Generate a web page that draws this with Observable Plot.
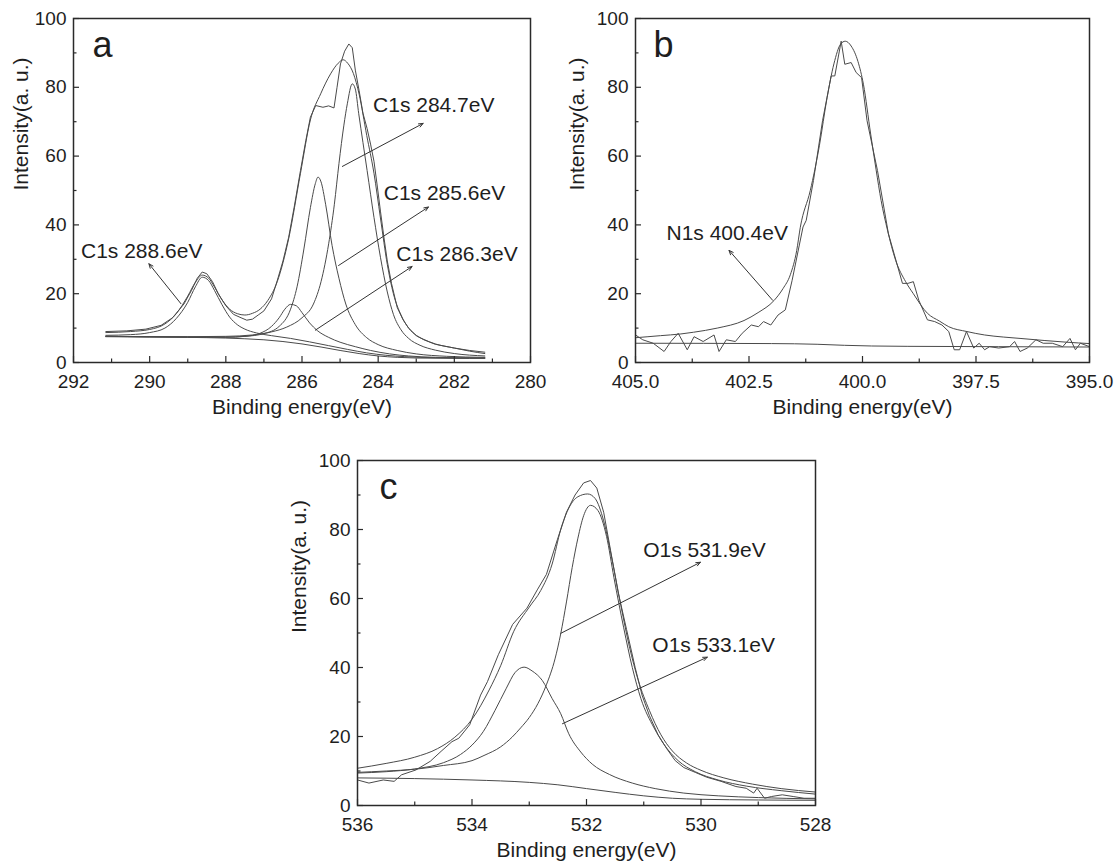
<!DOCTYPE html>
<html><head><meta charset="utf-8">
<script src="https://cdn.jsdelivr.net/npm/d3@7"></script>
<script src="https://cdn.jsdelivr.net/npm/@observablehq/plot@0.6"></script>
<style>
html,body{margin:0;padding:0;background:#fff;}
#wrap{position:relative;width:1115px;height:864px;overflow:hidden;font-family:"Liberation Sans",Arial,sans-serif;}
#wrap svg{position:absolute;}
</style></head><body><div id="wrap"></div>
<script>
// ---------- Panel a : C1s ----------
const aXTicks = [292, 290, 288, 286, 284, 282, 280];
const aXMinor = [291, 289, 287, 285, 283, 281];
const yTicks = [0, 20, 40, 60, 80, 100];
const yMinor = [10, 30, 50, 70, 90];
const aRaw = [[291.15,9.0],[290.6,9.2],[290.1,9.7],[289.7,10.8],[289.4,13.0],[289.1,17.0],[288.9,21.0],[288.75,24.5],[288.62,26.3],[288.5,25.8],[288.35,23.5],[288.2,20.0],[288.0,16.5],[287.8,14.0],[287.6,13.0],[287.45,12.3],[287.3,12.6],[287.15,13.8],[287.0,15.0],[286.8,18.5],[286.65,23.8],[286.5,29.5],[286.35,36.4],[286.2,45.5],[286.04,55.8],[285.9,64.5],[285.78,71.3],[285.64,74.7],[285.45,74.2],[285.3,74.6],[285.16,74.0],[285.08,80],[284.99,86.8],[284.88,90.5],[284.77,92.6],[284.68,91.5],[284.6,85],[284.5,79],[284.4,72.5],[284.29,68],[284.2,63.5],[284.11,58.5],[284.02,51],[283.94,44],[283.85,36.5],[283.76,29.5],[283.65,23],[283.5,16],[283.35,12.5],[283.2,10],[283.0,7.8],[282.8,6.6],[282.5,5.3],[282.0,4.2],[281.6,3.5],[281.2,3.0]];
const aFit = [[291.15,8.7],[290.5,9.0],[290.0,9.6],[289.6,11.2],[289.3,14.2],[289.0,19.3],[288.8,23.3],[288.62,25.4],[288.45,24.5],[288.3,22.0],[288.1,18.2],[287.9,15.5],[287.7,14.2],[287.5,13.8],[287.3,14.3],[287.1,15.5],[286.9,18.0],[286.65,23.5],[286.35,36],[286.04,55],[285.78,70.5],[285.51,78.1],[285.25,83.9],[285.05,87],[284.92,88],[284.8,87],[284.65,84],[284.5,78],[284.3,66],[284.11,55],[283.94,42],[283.76,28.5],[283.6,20],[283.4,13.8],[283.2,10],[283.0,7.9],[282.8,6.7],[282.5,5.4],[282.0,4.2],[281.6,3.3],[281.2,2.6]];
const aPeak2886 = [[291.15,7.9],[290.5,8.1],[290.0,8.7],[289.6,10.0],[289.3,12.8],[289.0,17.5],[288.8,22],[288.62,24.8],[288.45,23.8],[288.3,21.0],[288.1,16.8],[287.9,13.2],[287.7,11.0],[287.5,9.7],[287.2,8.6],[286.8,7.8],[286.3,7.0],[285.8,6.0],[285.3,4.9],[284.8,3.8],[284.3,2.8],[283.8,2.1],[283.3,1.7],[282.5,1.4],[281.2,1.3]];
const aPeak2863 = [[291.15,7.6],[289,7.4],[288.0,7.3],[287.5,7.6],[287.1,8.5],[286.8,10.5],[286.6,13.0],[286.45,15.5],[286.3,16.9],[286.15,16.5],[286.0,14.5],[285.8,11.5],[285.6,9.3],[285.3,7.3],[285.0,5.9],[284.6,4.6],[284.2,3.5],[283.7,2.5],[283.2,1.9],[282.5,1.5],[281.2,1.3]];
const aPeak2856 = [[291.15,7.6],[289,7.4],[288.0,7.4],[287.5,7.6],[287.0,8.4],[286.6,10.5],[286.3,15.5],[286.13,22],[285.95,33],[285.78,45],[285.65,52],[285.58,53.9],[285.5,52.5],[285.38,46],[285.21,34],[285.03,24.5],[284.85,17],[284.6,11],[284.3,7.2],[284.0,5.2],[283.5,3.5],[283.0,2.5],[282.2,1.8],[281.2,1.5]];
const aPeak2847 = [[291.15,7.6],[289,7.5],[288.0,7.6],[287.3,8.0],[286.8,8.9],[286.4,10.3],[286.0,13.0],[285.7,17.0],[285.5,23.5],[285.3,34.5],[285.15,46],[285.03,57.8],[284.9,69],[284.81,75.2],[284.68,81],[284.6,79.5],[284.51,72.3],[284.4,64],[284.29,55.8],[284.11,42.2],[283.94,30.6],[283.76,20.5],[283.6,14],[283.4,9.5],[283.2,7.0],[282.9,5.0],[282.5,3.6],[282.0,2.6],[281.2,1.9]];
const aBg = [[291.15,7.5],[290,7.4],[289,7.3],[288,7.1],[287.5,6.9],[287,6.6],[286.5,6.1],[286,5.4],[285.5,4.5],[285,3.5],[284.5,2.6],[284,1.9],[283.5,1.5],[283,1.3],[282,1.2],[281.2,1.2]];
const aLabelText = ["C1s 284.7eV", "C1s 285.6eV", "C1s 286.3eV", "C1s 288.6eV"];
const aLabelE = [282.54, 282.26, 281.93, 290.21];
const aLabelI = [74.8, 49.3, 31.5, 32.3];
const aArrowFrom = [[284.94,57.0],[285.04,28.2],[285.65,9.4],[289.18,17.1]];
const aArrowTo = [[282.82,69.5],[282.68,45.2],[283.11,27.9],[290.02,28.7]];

// ---------- Panel b : N1s ----------
const bXTicks = [405, 402.5, 400, 397.5, 395];
const bXMinor = [403.75, 401.25, 398.75, 396.25];
const bRaw = [[405.0,8],[404.84,6.6],[404.61,5.6],[404.37,3.2],[404.22,6.1],[404.06,8.5],[403.86,3.7],[403.71,7.5],[403.51,6.1],[403.27,8],[403.16,3.2],[403.0,6.6],[402.8,6.1],[402.65,8.5],[402.45,10.9],[402.29,10.4],[402.18,11.9],[402.02,10.9],[401.86,13.8],[401.7,15.3],[401.55,23.9],[401.31,39.4],[401.24,41.3],[401.08,52.9],[400.88,70.3],[400.69,83.3],[400.61,83.3],[400.47,93.4],[400.39,86.7],[400.25,87.2],[400.14,84.3],[400.02,82.8],[399.9,70.3],[399.67,55.8],[399.43,37.5],[399.12,23],[399.0,23],[398.88,23.5],[398.76,18.1],[398.57,12.4],[398.41,11.9],[398.25,10.9],[398.1,9],[397.98,3.7],[397.86,3.7],[397.71,9],[397.55,4.2],[397.43,5.6],[397.31,3.7],[397.2,4.6],[397.0,4.2],[396.76,4.6],[396.65,6.1],[396.53,3.2],[396.37,4.2],[396.18,6.6],[396.02,5.6],[395.82,5.6],[395.59,4.6],[395.43,7.0],[395.31,3.7],[395.2,5.6],[395.0,4.6]];
const bFit = [[405,7.2],[404.45,7.8],[404,8.3],[403.72,8.8],[403.2,10.0],[402.61,12.2],[402.3,14.5],[401.95,18.0],[401.75,21.5],[401.59,25.5],[401.45,32.5],[401.37,39.3],[401.15,50],[400.95,63],[400.78,77],[400.63,86.8],[400.48,92.6],[400.38,93.4],[400.25,92],[400.1,87.5],[399.98,80.9],[399.82,66.4],[399.7,56],[399.59,47.1],[399.45,38.5],[399.27,29.7],[399.05,23.5],[398.88,20],[398.57,14.3],[398.3,12],[398.1,10.4],[397.7,9.0],[397.31,8.0],[396.9,7.4],[396.53,7.0],[396.0,6.4],[395.5,5.9],[395,5.5]];
const bBg = [[405,5.6],[402,5.5],[401,5.3],[400.4,5.0],[399.8,4.8],[399,4.7],[397,4.6],[395,4.5]];
const bLabelText = ["N1s 400.4eV"];
const bLabelE = [402.98];
const bLabelI = [37.5];
const bArrowFrom = [[401.98,18.1]];
const bArrowTo = [[402.94,32.6]];

// ---------- Panel c : O1s ----------
const cXTicks = [536, 534, 532, 530, 528];
const cXMinor = [535, 533, 531, 529];
const cRaw = [[536.0,7.4],[535.8,6.5],[535.55,7.4],[535.36,7.0],[535.23,8.9],[534.98,10.3],[534.73,12.8],[534.54,15.7],[534.35,18.5],[534.23,19.5],[534.04,23.4],[533.85,32],[533.73,35.9],[533.54,43.7],[533.29,52.5],[533.04,57.2],[532.86,62.5],[532.7,67],[532.51,77],[532.35,85],[532.2,90],[532.05,93.5],[531.93,94.2],[531.82,92],[531.7,85],[531.58,74],[531.45,62],[531.3,51],[531.15,40],[531.03,32],[530.9,26],[530.75,20.5],[530.6,16.5],[530.45,13.0],[530.3,11.0],[530.1,9.6],[529.9,8.2],[529.65,7.0],[529.39,5.5],[529.21,5.0],[529.08,3.6],[529.02,5.0],[528.89,2.1],[528.77,2.6],[528.58,3.1],[528.39,2.6],[528.2,2.1],[528.0,2.1]];
const cFit = [[536.0,10.8],[535.5,12.2],[535.0,14.0],[534.6,16.5],[534.3,19.8],[534.0,25.0],[533.7,33.5],[533.5,40.5],[533.27,50.5],[533.0,57.5],[532.8,62.3],[532.6,70],[532.45,80],[532.3,86.5],[532.15,89.5],[531.98,90.3],[531.85,89],[531.7,82.5],[531.55,71],[531.4,58],[531.25,46],[531.1,36.5],[530.9,27.5],[530.7,20.5],[530.5,15.8],[530.25,12.3],[530.0,10.2],[529.6,8.0],[529.1,6.2],[528.6,4.9],[528.0,3.9]];
const cPeak5331 = [[536,9.4],[535.5,9.8],[535,10.6],[534.5,12.4],[534.2,14.8],[534.0,17.5],[533.8,21.5],[533.6,27.5],[533.4,34],[533.25,38.5],[533.09,40.1],[532.95,39],[532.77,36.2],[532.6,31],[532.45,26.6],[532.31,20.8],[532.1,15.5],[531.9,12.0],[531.6,9.0],[531.2,6.5],[530.8,4.9],[530.3,3.6],[529.7,2.8],[529.0,2.3],[528.0,1.9]];
const cPeak5319 = [[536,9.6],[535.5,10.0],[535,10.5],[534.5,11.6],[534.0,13.0],[533.79,14.5],[533.5,17.0],[533.3,19.8],[533.15,22.5],[533.0,25.5],[532.85,29.5],[532.7,35],[532.55,42.5],[532.45,49.8],[532.35,59],[532.25,69],[532.15,77.5],[532.05,84],[531.93,87],[531.8,85.5],[531.65,78],[531.52,66],[531.35,51.5],[531.2,40],[531.05,31],[530.82,22.5],[530.65,17.8],[530.4,13.0],[530.1,9.8],[529.7,7.4],[529.2,5.6],[528.6,4.3],[528.0,3.3]];
const cBg = [[536,8.0],[535,7.8],[534,7.4],[533,6.7],[532.5,6.0],[532,4.9],[531.5,3.8],[531,2.8],[530.5,2.1],[530,1.8],[529,1.6],[528,1.5]];
const cLabelText = ["O1s 531.9eV", "O1s 533.1eV"];
const cLabelE = [529.94, 529.78];
const cLabelI = [73.9, 46.4];
const cArrowFrom = [[532.45,49.9],[532.42,23.7]];
const cArrowTo = [[530.01,70.5],[529.89,43]];

const FONT = "Liberation Sans, Arial, sans-serif";
const INK = "#1e1e1e";
const LINE = "#4a4a4a";

function panel(o) {
  const ph = o.height - o.mt - o.mb;
  const pw = o.width - o.ml - o.mr;
  const labels = o.labelText.map((t, i) => ({t, E: o.labelE[i], I: o.labelI[i]}));
  const arrows = o.arrowFrom.map((f, i) => ({x1: f[0], y1: f[1], x2: o.arrowTo[i][0], y2: o.arrowTo[i][1]}));
  const marks = [];
  for (const c of o.curves) {
    marks.push(Plot.line(c.data, {x: d => d[0], y: d => d[1], curve: c.curve, stroke: LINE, strokeWidth: 1}));
  }
  marks.push(
    Plot.arrow(arrows, {x1: "x1", y1: "y1", x2: "x2", y2: "y2", stroke: "#333", strokeWidth: 1, headLength: 7, headAngle: 45}),
    Plot.text(labels, {x: "E", y: "I", text: "t", fontSize: 21, fill: INK}),
    Plot.frame({stroke: "#2a2a2a", strokeWidth: 1.5}),
    Plot.tickX(o.xTicks, {x: d => d, insetTop: ph - 6, stroke: "#2a2a2a", strokeWidth: 1.2}),
    Plot.tickX(o.xMinor, {x: d => d, insetTop: ph - 3.5, stroke: "#2a2a2a", strokeWidth: 1.2}),
    Plot.tickY(yTicks, {y: d => d, insetRight: pw - 6, stroke: "#2a2a2a", strokeWidth: 1.2}),
    Plot.tickY(yMinor, {y: d => d, insetRight: pw - 3.5, stroke: "#2a2a2a", strokeWidth: 1.2}),
    Plot.axisX({ticks: o.xTicks, tickSize: 0, tickPadding: 12, tickFormat: o.fmt, fontSize: 19, fill: INK}),
    Plot.axisY({ticks: yTicks, tickSize: 0, tickPadding: 7, fontSize: 19, fill: INK}),
    Plot.text([o.letter], {text: d => d, frameAnchor: "top-left", dx: o.ldx, dy: 38, textAnchor: "start", lineAnchor: "bottom", fontSize: 36, fill: INK}),
    Plot.text(["Intensity(a. u.)"], {text: d => d, frameAnchor: "left", dx: o.ytdx, rotate: -90, fontSize: 21, fill: INK}),
    Plot.text(["Binding energy(eV)"], {text: d => d, frameAnchor: "bottom", dy: 51, fontSize: 21, fill: INK})
  );
  const svg = Plot.plot({
    width: o.width, height: o.height,
    marginLeft: o.ml, marginRight: o.mr, marginTop: o.mt, marginBottom: o.mb,
    x: {domain: o.xDomain, label: null},
    y: {domain: [0, 100], label: null},
    style: {fontFamily: FONT, fontSize: "19px", color: INK, background: "transparent"},
    marks
  });
  svg.style.left = o.left + "px";
  svg.style.top = o.top + "px";
  document.getElementById("wrap").appendChild(svg);
}

panel({
  left: 0, top: 0, width: 557, height: 440, ml: 73, mr: 27, mt: 18, mb: 78,
  xDomain: [292, 280], xTicks: aXTicks, xMinor: aXMinor, fmt: d3.format("d"),
  curves: [
    {data: aBg, curve: "monotone-x"},
    {data: aPeak2886, curve: "monotone-x"},
    {data: aPeak2863, curve: "monotone-x"},
    {data: aPeak2856, curve: "monotone-x"},
    {data: aPeak2847, curve: "monotone-x"},
    {data: aFit, curve: "monotone-x"},
    {data: aRaw, curve: "linear"}
  ],
  labelText: aLabelText, labelE: aLabelE, labelI: aLabelI,
  arrowFrom: aArrowFrom, arrowTo: aArrowTo,
  letter: "a", ldx: 19, ytdx: -52
});

panel({
  left: 557, top: 0, width: 558, height: 440, ml: 78, mr: 26, mt: 18, mb: 78,
  xDomain: [405, 395], xTicks: bXTicks, xMinor: bXMinor, fmt: d3.format(".1f"),
  curves: [
    {data: bBg, curve: "monotone-x"},
    {data: bFit, curve: "monotone-x"},
    {data: bRaw, curve: "linear"}
  ],
  labelText: bLabelText, labelE: bLabelE, labelI: bLabelI,
  arrowFrom: bArrowFrom, arrowTo: bArrowTo,
  letter: "b", ldx: 18, ytdx: -58
});

panel({
  left: 280, top: 440, width: 560, height: 424, ml: 77, mr: 25, mt: 20, mb: 59,
  xDomain: [536, 528], xTicks: cXTicks, xMinor: cXMinor, fmt: d3.format("d"),
  curves: [
    {data: cBg, curve: "monotone-x"},
    {data: cPeak5331, curve: "monotone-x"},
    {data: cPeak5319, curve: "monotone-x"},
    {data: cFit, curve: "monotone-x"},
    {data: cRaw, curve: "linear"}
  ],
  labelText: cLabelText, labelE: cLabelE, labelI: cLabelI,
  arrowFrom: cArrowFrom, arrowTo: cArrowTo,
  letter: "c", ldx: 22, ytdx: -58
});
</script></body></html>
